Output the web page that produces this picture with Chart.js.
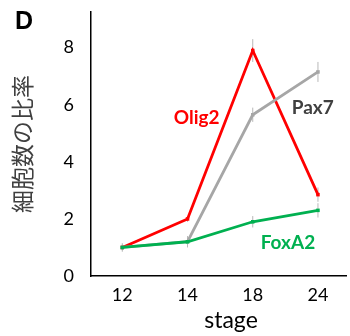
<!DOCTYPE html>
<html>
<head>
<meta charset="utf-8">
<script src="https://cdn.jsdelivr.net/npm/chart.js@4.4.0/dist/chart.umd.min.js"></script>
<style>
  html, body { margin: 0; padding: 0; background: #fff; }
  #wrap { width: 350px; height: 336px; }
</style>
</head>
<body>
<div id="wrap"><canvas id="chart" width="350" height="336"></canvas></div>
<script>
// stages along the x axis
const categories = ['12', '14', '18', '24'];

// cell ratio per series
const olig2 = [1.0, 2.0, 7.9, 2.85];
const pax7 = [1.0, 1.2, 5.65, 7.15];
const foxa2 = [1.0, 1.2, 1.9, 2.3];

// error bar half-lengths
const olig2Err = [0.1, 0.1, 0.4, 0.25];
const pax7Err = [0.15, 0.2, 0.25, 0.35];
const foxa2Err = [0.05, 0.1, 0.2, 0.25];

const yTicks = [0, 2, 4, 6, 8];

const FONT = 'Lato, "Open Sans", sans-serif';

function toPoints(values) {
    return values.map((v, i) => ({ x: i, y: v }));
}

// draws small vertical error bars from the errors array
const errorBars = {
    id: 'errorBars',
    beforeDatasetsDraw(chart) {
        const ctx = chart.ctx;
        const xs = chart.scales.x;
        const ys = chart.scales.y;
        ctx.save();
        ctx.strokeStyle = '#b8b8b8';
        ctx.lineWidth = 1;
        chart.data.datasets.forEach(ds => {
            ds.errors.forEach((e, i) => {
                const px = xs.getPixelForValue(i);
                const top = ys.getPixelForValue(ds.data[i].y + e);
                const bot = ys.getPixelForValue(ds.data[i].y - e);
                ctx.beginPath();
                ctx.moveTo(px, top);
                ctx.lineTo(px, bot);
                ctx.stroke();
            });
        });
        ctx.restore();
    }
};

// panel letter, series names and x title
const labels = {
    id: 'labels',
    afterDraw(chart) {
        const ctx = chart.ctx;
        const xs = chart.scales.x;
        const ys = chart.scales.y;
        ctx.save();
        ctx.textAlign = 'center';
        ctx.textBaseline = 'middle';
        ctx.font = 'bold 25px "Liberation Sans", Arial, sans-serif';
        ctx.fillStyle = '#000';
        ctx.fillText('D', 24, 22);

        ctx.font = '23px ' + FONT;
        ctx.fillText('stage', 231, 321);

        ctx.font = 'bold 19px ' + FONT;
        const names = [
            { text: 'Olig2', x: 1.14, y: 5.55, color: '#ff0000' },
            { text: 'Pax7', x: 2.92, y: 5.9, color: '#404040' },
            { text: 'FoxA2', x: 2.54, y: 1.16, color: '#00b050' }
        ];
        names.forEach(n => {
            ctx.fillStyle = n.color;
            ctx.fillText(n.text, xs.getPixelForValue(n.x), ys.getPixelForValue(n.y));
        });
        ctx.restore();
    }
};

function series(values, errs, color) {
    return {
        data: toPoints(values),
        errors: errs,
        borderColor: color,
        backgroundColor: color,
        borderWidth: 2.8,
        pointStyle: 'rect',
        pointRadius: 2.5,
        pointBorderWidth: 0,
        tension: 0
    };
}

new Chart(document.getElementById('chart').getContext('2d'), {
    type: 'line',
    data: {
        datasets: [
            series(foxa2, foxa2Err, '#00b050'),
            series(pax7, pax7Err, '#a6a6a6'),
            series(olig2, olig2Err, '#ff0000')
        ]
    },
    options: {
        responsive: false,
        animation: false,
        layout: { padding: { top: 12, right: 0, left: 0, bottom: 0 } },
        plugins: { legend: { display: false }, tooltip: { enabled: false } },
        scales: {
            x: {
                type: 'linear',
                min: -0.48,
                max: 3.43,
                grid: { display: false },
                border: { color: '#000', width: 1.5 },
                afterBuildTicks(scale) {
                    scale.ticks = categories.map((c, i) => ({ value: i }));
                },
                afterFit(scale) {
                    scale.height = 60;
                    scale.paddingLeft = 0;
                    scale.paddingRight = 0;
                },
                ticks: {
                    color: '#000',
                    font: { family: FONT, size: 18 },
                    padding: 0,
                    callback: v => categories[v]
                }
            },
            y: {
                min: 0,
                max: 9.25,
                grid: { display: false },
                border: { color: '#000', width: 1.5 },
                afterBuildTicks(scale) {
                    scale.ticks = yTicks.map(v => ({ value: v }));
                },
                afterFit(scale) {
                    scale.width = 91;
                    scale.paddingTop = 0;
                    scale.paddingBottom = 0;
                },
                ticks: {
                    color: '#000',
                    font: { family: FONT, size: 18 },
                    padding: 9
                },
                title: {
                    display: true,
                    text: '細胞数の比率',
                    color: '#404040',
                    font: { family: '"Noto Sans CJK JP"', size: 23 },
                    padding: { top: 8, bottom: 0 }
                }
            }
        }
    },
    plugins: [errorBars, labels]
});
</script>
</body>
</html>
